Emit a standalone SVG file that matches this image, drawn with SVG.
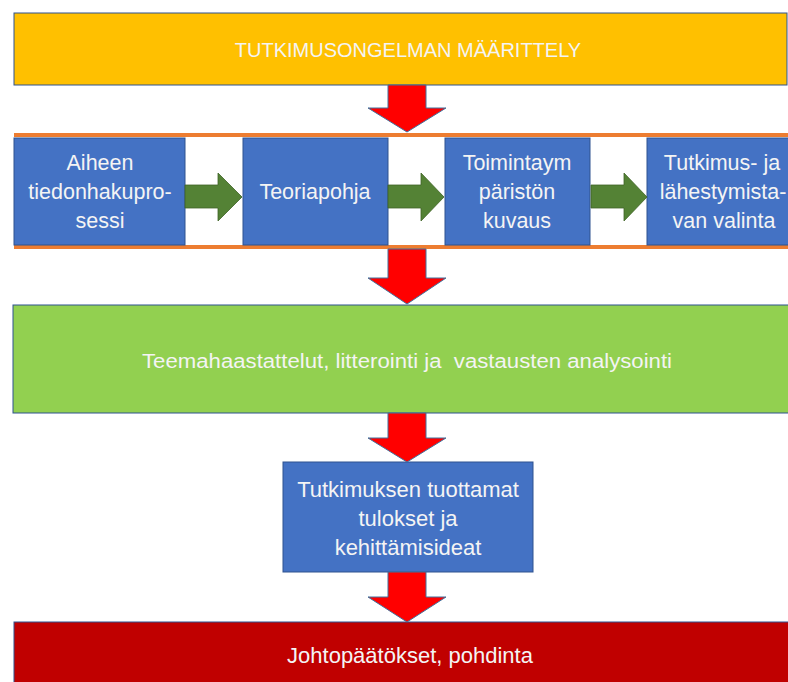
<svg xmlns="http://www.w3.org/2000/svg" width="788" height="682" viewBox="0 0 788 682">
<style>
.t{font-family:"Liberation Sans",Arial,sans-serif;fill:#f4f4f4;text-anchor:middle}
.box{stroke:#2f528f;stroke-width:1}
.blue{fill:#4472c4}
.red{fill:#ff0000;stroke:#41719c;stroke-width:1}
.grn{fill:#548235;stroke:#3f6326;stroke-width:0.8}
.org{stroke:#ed7d31;stroke-width:4}
</style>
<rect width="788" height="682" fill="#ffffff"/>
<g id="orange-band">
<line class="org" x1="14" y1="135" x2="788" y2="135"/>
<line class="org" x1="14" y1="247" x2="788" y2="247"/>
</g>
<g id="n-title">
<rect class="box" x="14" y="13" width="773" height="72" fill="#ffc000"/>
<text class="t" x="408" y="57" font-size="20">TUTKIMUSONGELMAN MÄÄRITTELY</text>
</g>
<g id="n-aiheen">
<rect class="box blue" x="14" y="138" width="171" height="107"/>
<text class="t" x="100" y="170" font-size="21.5">Aiheen</text>
<text class="t" x="100" y="199" font-size="21.5">tiedonhakupro-</text>
<text class="t" x="100" y="228" font-size="21.5">sessi</text>
</g>
<g id="n-teoria">
<rect class="box blue" x="243" y="138" width="145" height="107"/>
<text class="t" x="315" y="199" font-size="21.5">Teoriapohja</text>
</g>
<g id="n-toiminta">
<rect class="box blue" x="445" y="138" width="145" height="107"/>
<text class="t" x="517" y="170" font-size="21.5">Toimintaym</text>
<text class="t" x="517" y="199" font-size="21.5">päristön</text>
<text class="t" x="517" y="228" font-size="21.5">kuvaus</text>
</g>
<g id="n-tutkimus">
<rect class="box blue" x="647" y="138" width="145" height="107"/>
<text class="t" x="722" y="170" font-size="21.5">Tutkimus- ja</text>
<text class="t" x="723" y="199" font-size="21.5">lähestymista-</text>
<text class="t" x="724" y="228" font-size="21.5">van valinta</text>
</g>
<g id="n-teema">
<rect class="box" x="13" y="305" width="780" height="108" fill="#92d050"/>
<text class="t" x="407" y="368" font-size="19.5" textLength="530" lengthAdjust="spacingAndGlyphs" xml:space="preserve">Teemahaastattelut, litterointi ja  vastausten analysointi</text>
</g>
<g id="n-tulokset">
<rect class="box blue" x="283" y="462" width="250" height="110"/>
<text class="t" x="408" y="497" font-size="22">Tutkimuksen tuottamat</text>
<text class="t" x="408" y="526" font-size="22">tulokset ja</text>
<text class="t" x="408" y="555" font-size="22">kehittämisideat</text>
</g>
<g id="n-johto">
<rect class="box" x="14" y="622" width="780" height="70" fill="#c00000"/>
<text class="t" x="410" y="663" font-size="22">Johtopäätökset, pohdinta</text>
</g>
<g id="connectors">
<polygon class="red" points="388,85 426,85 426,108 446,108 407,132 368,108 388,108"/>
<polygon class="red" points="388,249 426,249 426,278 446,278 407,304 368,278 388,278"/>
<polygon class="red" points="388,413 426,413 426,438 446,438 407,462 368,438 388,438"/>
<polygon class="red" points="388,572 426,572 426,597 446,597 407,622 368,597 388,597"/>
<polygon class="grn" points="185,185 218,185 218,173 242,197 218,221 218,208 185,208"/>
<polygon class="grn" points="388,185 421,185 421,173 444,197 421,221 421,208 388,208"/>
<polygon class="grn" points="591,185 624,185 624,173 647,197 624,221 624,208 591,208"/>
</g>
</svg>
